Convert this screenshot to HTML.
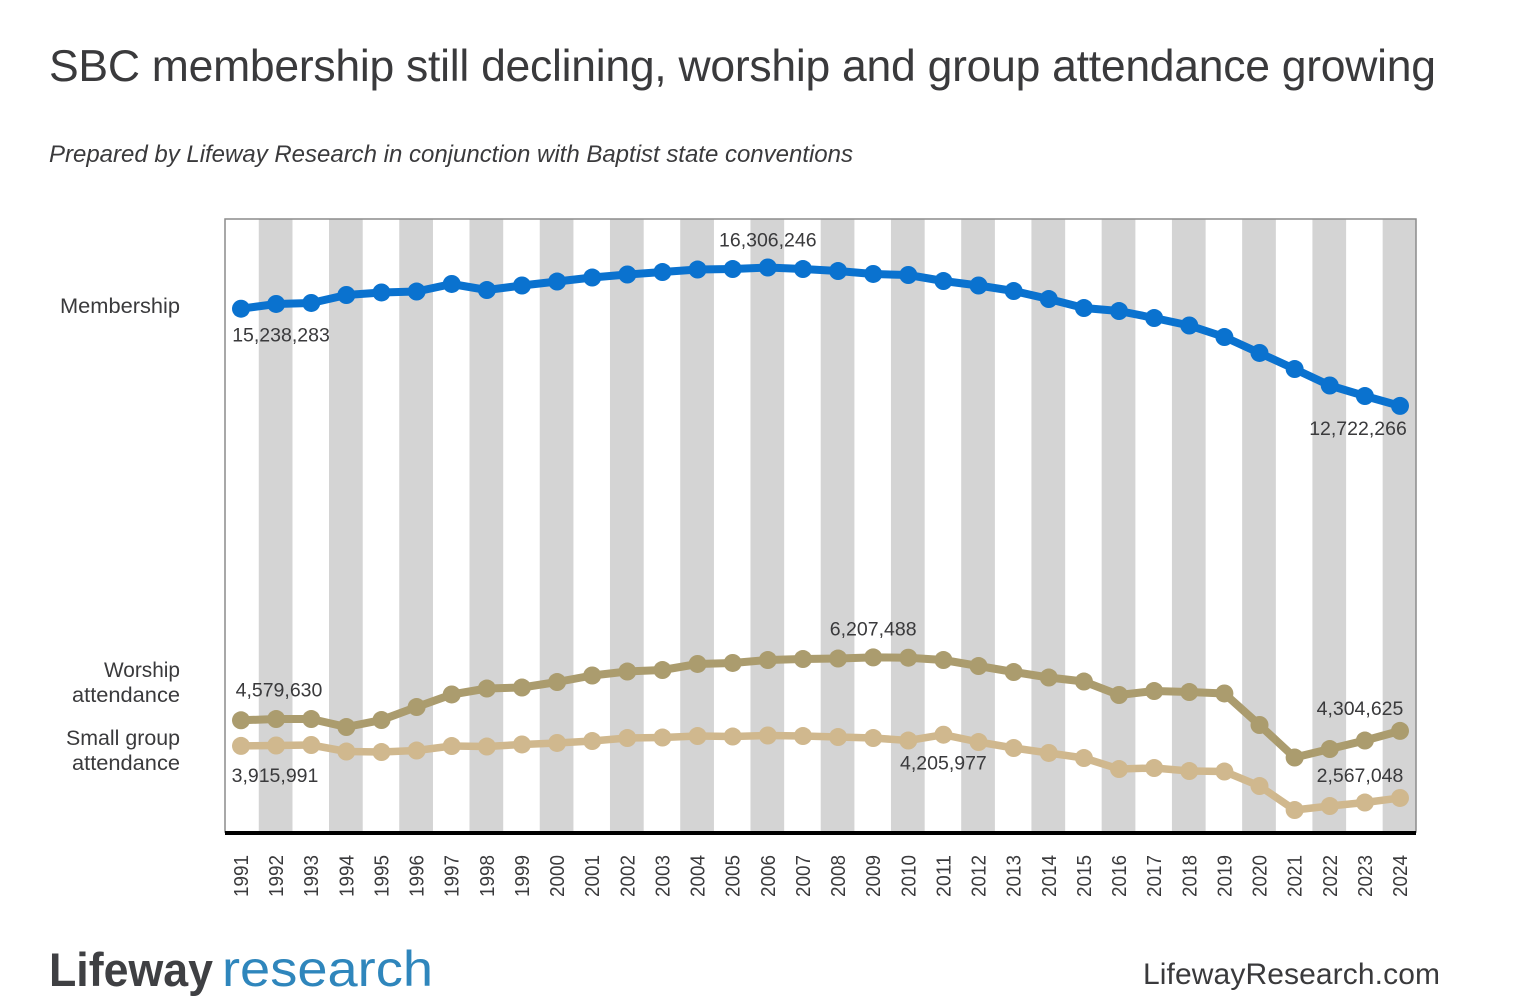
<!DOCTYPE html>
<html lang="en">
<head>
<meta charset="utf-8">
<title>SBC membership still declining, worship and group attendance growing</title>
<style>
html,body{margin:0;padding:0;background:#fff;width:1513px;height:1005px;overflow:hidden}
svg{display:block}
text{font-family:"Liberation Sans",sans-serif;fill:#3a3a3c}
</style>
</head>
<body>
<svg id="chart" xmlns="http://www.w3.org/2000/svg" width="1513" height="1005" viewBox="0 0 1513 1005">
  <text x="49" y="81" font-size="44.5" textLength="1387" lengthAdjust="spacing">SBC membership still declining, worship and group attendance growing</text>
  <text x="49" y="162" font-size="24" font-style="italic" textLength="804" lengthAdjust="spacing">Prepared by Lifeway Research in conjunction with Baptist state conventions</text>

  <g id="bands"></g>
  <rect x="225" y="219" width="1191" height="613" fill="none" stroke="#8c8c8c" stroke-width="1.5"/>
  <rect x="225" y="831" width="1191" height="4" fill="#000"/>
  <g id="ticks"></g>
  <g id="series"></g>
  <g id="values"></g>

  <text x="60" y="313" font-size="21" textLength="120" lengthAdjust="spacingAndGlyphs">Membership</text>
  <text x="104" y="677" font-size="21" textLength="76" lengthAdjust="spacingAndGlyphs">Worship</text>
  <text x="72" y="702" font-size="21" textLength="108" lengthAdjust="spacingAndGlyphs">attendance</text>
  <text x="66" y="745" font-size="21" textLength="114" lengthAdjust="spacingAndGlyphs">Small group</text>
  <text x="72" y="770" font-size="21" textLength="108" lengthAdjust="spacingAndGlyphs">attendance</text>

  <text x="49" y="986" font-size="47" font-weight="bold" textLength="164" lengthAdjust="spacingAndGlyphs" style="fill:#3f4043">Lifeway</text>
  <text x="222" y="986" font-size="50" textLength="211" lengthAdjust="spacingAndGlyphs" style="fill:#2f86bc">research</text>
  <text x="1143" y="984" font-size="30" textLength="297" lengthAdjust="spacing">LifewayResearch.com</text>
</svg>
<script>
const years = [1991,1992,1993,1994,1995,1996,1997,1998,1999,2000,2001,2002,2003,2004,2005,2006,2007,2008,2009,2010,2011,2012,2013,2014,2015,2016,2017,2018,2019,2020,2021,2022,2023,2024];
const membership = [15238283,15361000,15387000,15594000,15659000,15684000,15879000,15723000,15840000,15943000,16047000,16125000,16189000,16254000,16267000,16306246,16267000,16215000,16138000,16112000,15956000,15840000,15697000,15490000,15257000,15179000,14998000,14804000,14506000,14092000,13677000,13250000,12978000,12722266];
const worship = [4579630,4612000,4612000,4405000,4586000,4923000,5247000,5402000,5428000,5570000,5739000,5842000,5881000,6037000,6063000,6140000,6166000,6179000,6207488,6200000,6140000,5985000,5829000,5687000,5583000,5234000,5337000,5311000,5273000,4457000,3615000,3835000,4055000,4304625];
const smallGroup = [3915991,3926000,3939000,3770000,3757000,3796000,3913000,3900000,3952000,3991000,4042000,4120000,4133000,4172000,4159000,4185000,4172000,4146000,4120000,4055000,4205977,4016000,3861000,3732000,3602000,3317000,3343000,3265000,3252000,2877000,2255000,2359000,2449000,2567048];

const SVG_NS = 'http://www.w3.org/2000/svg';
const xFirst = 241, xLast = 1400;
const yRefValue = 16306246, yRefPixel = 267.5, pxPerUnit = 3.861e-5;
function xScale(i){ return xFirst + i * (xLast - xFirst) / (years.length - 1); }
function yScale(v){ return yRefPixel + (yRefValue - v) * pxPerUnit; }
function make(tag, attrs, parent){
  const el = document.createElementNS(SVG_NS, tag);
  for (const k in attrs) el.setAttribute(k, attrs[k]);
  parent.appendChild(el);
  return el;
}

const bandsG = document.getElementById('bands');
const ticksG = document.getElementById('ticks');
const seriesG = document.getElementById('series');
const valuesG = document.getElementById('values');
const step = (xLast - xFirst) / (years.length - 1);

years.forEach(function(year, i){
  if (year % 2 === 0) {
    const band = make('rect', {x: xScale(i) - step * 0.48 - 0.5, y: 219, width: step * 0.96, height: 613, fill: '#d4d4d4'}, bandsG);
    
    
  }
  const px = xScale(i) + 7;
  const tick = make('text', {x: px, y: 855, 'font-size': 20.5, 'text-anchor': 'end', textLength: 42, lengthAdjust: 'spacingAndGlyphs', transform: 'rotate(-90 ' + px + ' 855)'}, ticksG);
  tick.textContent = String(year);
  
  
});

function drawSeries(values, color, width, name){
  const group = make('g', {}, seriesG);
  
  
  const pts = values.map(function(v, i){ return xScale(i).toFixed(1) + ',' + yScale(v).toFixed(1); }).join(' ');
  const line = make('polyline', {points: pts, fill: 'none', stroke: color, 'stroke-width': width, 'stroke-linejoin': 'round'}, group);
  
  
  values.forEach(function(v, i){
    const dot = make('circle', {cx: xScale(i), cy: yScale(v), r: 9, fill: color}, group);
    
    
  });
}
drawSeries(smallGroup, '#d0b88e', 7.5, 'small-group');
drawSeries(worship, '#ab9c6e', 8, 'worship');
drawSeries(membership, '#0a72cf', 8, 'membership');

function annotate(values, year, dx, dy){
  const i = years.indexOf(year);
  const t = make('text', {x: xScale(i) + dx, y: yScale(values[i]) + dy, 'font-size': 19.5, 'text-anchor': 'middle'}, valuesG);
  t.textContent = values[i].toLocaleString('en-US');
  
  
}
annotate(membership, 1991, 40, 33);
annotate(membership, 2006, 0, -21);
annotate(membership, 2024, -42, 29);
annotate(worship, 1991, 38, -24);
annotate(worship, 2009, 0, -22);
annotate(worship, 2024, -40, -16);
annotate(smallGroup, 1991, 34, 36);
annotate(smallGroup, 2011, 0, 35);
annotate(smallGroup, 2024, -40, -16);
</script>
</body>
</html>
